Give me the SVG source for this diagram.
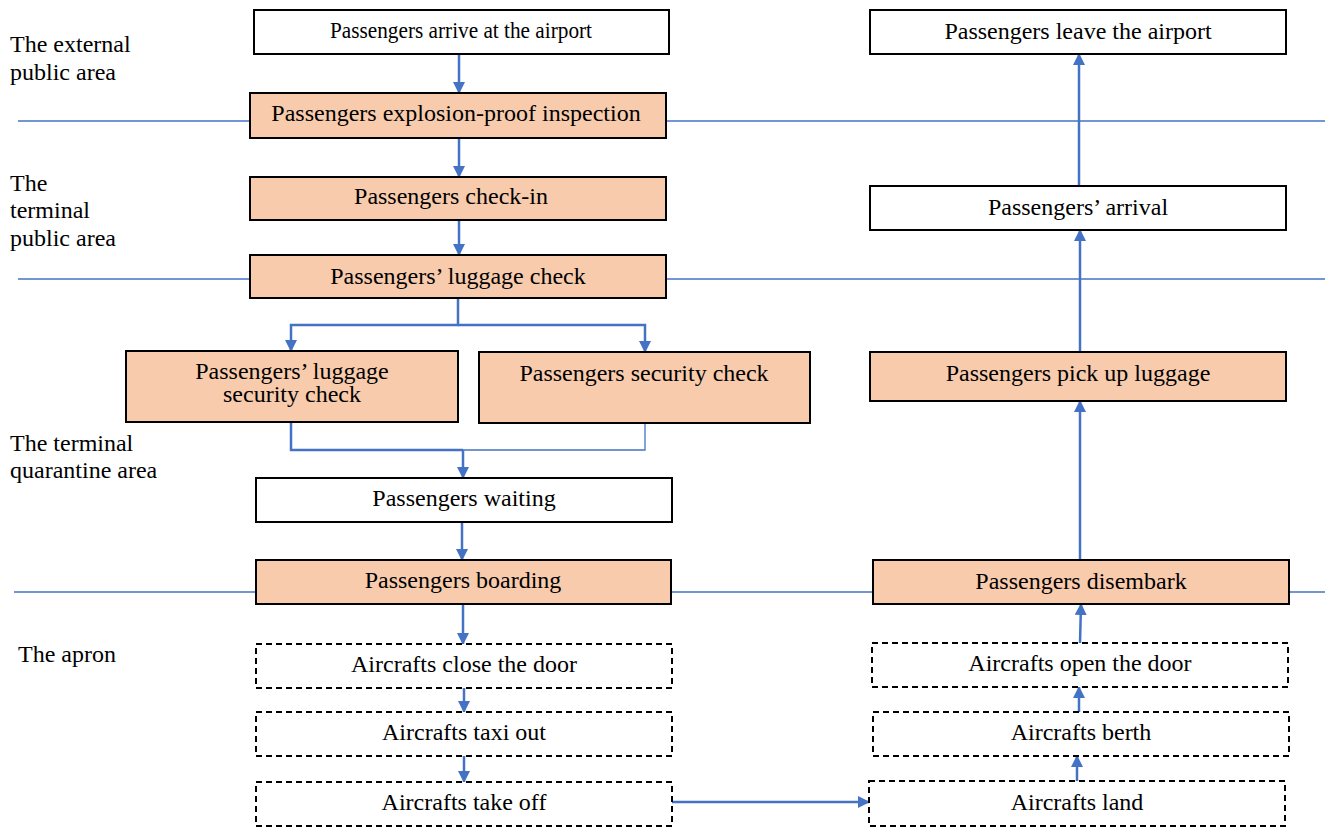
<svg xmlns="http://www.w3.org/2000/svg" width="1330" height="828" viewBox="0 0 1330 828">
<defs>
<style>
text{font-family:"Liberation Serif","Times New Roman",serif;font-size:24px;fill:#000}
.c{text-anchor:middle}
.box{stroke:#000;stroke-width:2}
.w{fill:#fff}
.p{fill:#F8CBAD}
.d{fill:#fff;stroke-dasharray:6 4}
.zone{stroke:#4472C4;stroke-width:1.3;fill:none}
.ln{stroke:#4472C4;stroke-width:2.5;fill:none}
.thin{stroke:#4472C4;stroke-width:1.3;fill:none}
</style>
<marker id="ah" viewBox="0 0 12 12" refX="11" refY="6" markerWidth="12" markerHeight="12" markerUnits="userSpaceOnUse" orient="auto">
<path d="M0,0 L12,6 L0,12 Z" fill="#4472C4"/>
</marker>
</defs>
<rect width="1330" height="828" fill="#fff"/>
<g id="zones">
<line class="zone" x1="18" y1="121" x2="1325" y2="121"/>
<line class="zone" x1="18" y1="279" x2="1325" y2="279"/>
<line class="zone" x1="14" y1="592" x2="1325" y2="592"/>
<text x="10" y="52">The external</text>
<text x="10" y="80">public area</text>
<text x="10" y="191">The</text>
<text x="10" y="218">terminal</text>
<text x="10" y="246">public area</text>
<text x="10" y="451">The terminal</text>
<text x="10" y="478">quarantine area</text>
<text x="18" y="662">The apron</text>
</g>
<g id="connectors">
<line class="ln" x1="459" y1="54" x2="459" y2="93" marker-end="url(#ah)"/>
<line class="ln" x1="459" y1="138" x2="459" y2="177" marker-end="url(#ah)"/>
<line class="ln" x1="459" y1="220" x2="459" y2="255" marker-end="url(#ah)"/>
<polyline class="ln" points="458,298 458,325 291,325 291,351" marker-end="url(#ah)"/>
<polyline class="ln" points="458,325 645,325 645,352" marker-end="url(#ah)"/>
<polyline class="ln" points="291,422 291,450 463,450"/>
<polyline class="thin" points="463,450 645,450 645,423"/>
<line class="ln" x1="463" y1="450" x2="463" y2="478" marker-end="url(#ah)"/>
<line class="ln" x1="462" y1="522" x2="462" y2="560" marker-end="url(#ah)"/>
<line class="ln" x1="463" y1="604" x2="463" y2="644" marker-end="url(#ah)"/>
<line class="ln" x1="464" y1="688" x2="464" y2="712" marker-end="url(#ah)"/>
<line class="ln" x1="464" y1="756" x2="464" y2="782" marker-end="url(#ah)"/>
<line class="ln" x1="672" y1="802" x2="869" y2="802" marker-end="url(#ah)"/>
<line class="ln" x1="1077" y1="781" x2="1077" y2="756" marker-end="url(#ah)"/>
<line class="ln" x1="1079" y1="712" x2="1079" y2="687" marker-end="url(#ah)"/>
<line class="ln" x1="1080" y1="643" x2="1081" y2="604" marker-end="url(#ah)"/>
<line class="ln" x1="1080" y1="560" x2="1080" y2="401" marker-end="url(#ah)"/>
<line class="ln" x1="1080" y1="352" x2="1080" y2="230" marker-end="url(#ah)"/>
<line class="ln" x1="1079" y1="186" x2="1079" y2="54" marker-end="url(#ah)"/>
</g>
<g id="n1"><rect class="box w" x="254" y="10" width="415" height="44"/><text class="c" x="461" y="38" font-size="22" textLength="262" lengthAdjust="spacingAndGlyphs">Passengers arrive at the airport</text></g>
<g id="n2"><rect class="box p" x="250" y="93" width="416" height="45"/><text class="c" x="456" y="121">Passengers explosion-proof inspection</text></g>
<g id="n3"><rect class="box p" x="250" y="177" width="416" height="43"/><text class="c" x="451" y="204">Passengers check-in</text></g>
<g id="n4"><rect class="box p" x="250" y="255" width="416" height="43"/><text class="c" x="458" y="284">Passengers’ luggage check</text></g>
<g id="n5"><rect class="box p" x="126" y="351" width="332" height="71"/><text class="c" x="292" y="379" font-size="23">Passengers’ luggage</text><text class="c" x="292" y="402" font-size="23">security check</text></g>
<g id="n6"><rect class="box p" x="479" y="352" width="331" height="71"/><text class="c" x="644" y="381">Passengers security check</text></g>
<g id="n7"><rect class="box w" x="256" y="478" width="416" height="44"/><text class="c" x="464" y="506">Passengers waiting</text></g>
<g id="n8"><rect class="box p" x="256" y="560" width="415" height="44"/><text class="c" x="463" y="588">Passengers boarding</text></g>
<g id="n9"><rect class="box d" x="256" y="644" width="416" height="44"/><text class="c" x="464" y="672">Aircrafts close the door</text></g>
<g id="n10"><rect class="box d" x="256" y="712" width="416" height="44"/><text class="c" x="464" y="740">Aircrafts taxi out</text></g>
<g id="n11"><rect class="box d" x="256" y="782" width="416" height="44"/><text class="c" x="464" y="810">Aircrafts take off</text></g>
<g id="n12"><rect class="box w" x="870" y="10" width="416" height="44"/><text class="c" x="1078" y="39">Passengers leave the airport</text></g>
<g id="n13"><rect class="box w" x="870" y="186" width="416" height="44"/><text class="c" x="1078" y="215">Passengers’ arrival</text></g>
<g id="n14"><rect class="box p" x="870" y="352" width="416" height="49"/><text class="c" x="1078" y="381">Passengers pick up luggage</text></g>
<g id="n15"><rect class="box p" x="873" y="560" width="416" height="44"/><text class="c" x="1081" y="589">Passengers disembark</text></g>
<g id="n16"><rect class="box d" x="872" y="643" width="416" height="44"/><text class="c" x="1080" y="671">Aircrafts open the door</text></g>
<g id="n17"><rect class="box d" x="873" y="712" width="416" height="44"/><text class="c" x="1081" y="740">Aircrafts berth</text></g>
<g id="n18"><rect class="box d" x="869" y="781" width="416" height="45"/><text class="c" x="1077" y="810">Aircrafts land</text></g>
</svg>
